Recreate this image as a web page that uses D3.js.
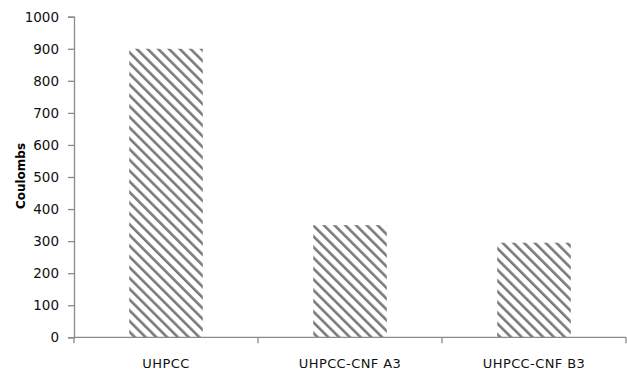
<!DOCTYPE html>
<html>
<head>
<meta charset="utf-8">
<script src="https://cdn.jsdelivr.net/npm/d3@7"></script>
<style>
  html, body { margin: 0; padding: 0; background: #fff; }
  svg { display: block; }
</style>
</head>
<body>
<svg id="chart" width="627" height="370"></svg>
<script>
const categories = ["UHPCC", "UHPCC-CNF A3", "UHPCC-CNF B3"];
const values = [900, 350, 295];
const yTicks = [0, 100, 200, 300, 400, 500, 600, 700, 800, 900, 1000];
const yTitle = "Coulombs";

(function () {
const svg = d3.select("#chart");
const mLeft = 74, mRight = 626, mTop = 16.7, mBottom = 337.3;

const x = d3.scaleBand().domain(categories).range([mLeft, mRight]).paddingInner(0.6).paddingOuter(0.3);
const y = d3.scaleLinear().domain([0, 1000]).range([mBottom, mTop]);

const defs = svg.append("defs");
const pat = defs.append("pattern")
  .attr("id", "hatch").attr("patternUnits", "userSpaceOnUse")
  .attr("width", 7.6).attr("height", 7.6)
  .attr("patternTransform", "rotate(-45)");
pat.append("rect").attr("width", 7.6).attr("height", 7.6).attr("fill", "#fff");
pat.append("rect").attr("x", 0).attr("y", 0).attr("width", 2.6).attr("height", 7.6).attr("fill", "#7a7a7a");

svg.append("g").selectAll("rect").data(categories).join("rect")
  .attr("x", d => x(d))
  .attr("y", (d, i) => y(values[i]))
  .attr("width", x.bandwidth())
  .attr("height", (d, i) => y(0) - y(values[i]))
  .attr("fill", "url(#hatch)");

const font = "'DejaVu Sans', Verdana, sans-serif";
const axisColor = "#8a8a8a";

const yAxis = svg.append("g").attr("transform", `translate(${mLeft},0)`)
  .call(d3.axisLeft(y).tickValues(yTicks).tickSize(6).tickPadding(9).tickFormat(d3.format("d")));
yAxis.select(".domain").attr("stroke", axisColor).attr("stroke-width", 1.3);
yAxis.selectAll(".tick line").attr("stroke", axisColor).attr("stroke-width", 1.3);
yAxis.selectAll("text").attr("font-family", font).attr("font-size", "13.5px").attr("fill", "#111");

const xAxisG = svg.append("g").attr("transform", `translate(0,${mBottom})`);
xAxisG.append("line").attr("x1", mLeft).attr("x2", mRight).attr("stroke", axisColor).attr("stroke-width", 1.3);
const bounds = [mLeft].concat(categories.map(c => x(c) - x.step() * x.paddingInner() / 2 + x.step()));
bounds[bounds.length - 1] = mRight;
xAxisG.selectAll("line.tk").data(bounds).join("line").attr("class", "tk")
  .attr("x1", d => d).attr("x2", d => d).attr("y1", 0).attr("y2", 6)
  .attr("stroke", axisColor).attr("stroke-width", 1.3);
xAxisG.selectAll("text").data(categories).join("text")
  .attr("x", d => x(d) + x.bandwidth() / 2)
  .attr("y", 30.5)
  .attr("text-anchor", "middle")
  .attr("font-family", font).attr("font-size", "13px").attr("letter-spacing", "0.4px").attr("fill", "#111")
  .text(d => d);

svg.append("text")
  .attr("transform", `translate(25,176) rotate(-90)`)
  .attr("text-anchor", "middle")
  .attr("font-family", font).attr("font-size", "12px").attr("font-weight", "bold").attr("fill", "#000")
  .text(yTitle);
})();
</script>
</body>
</html>
